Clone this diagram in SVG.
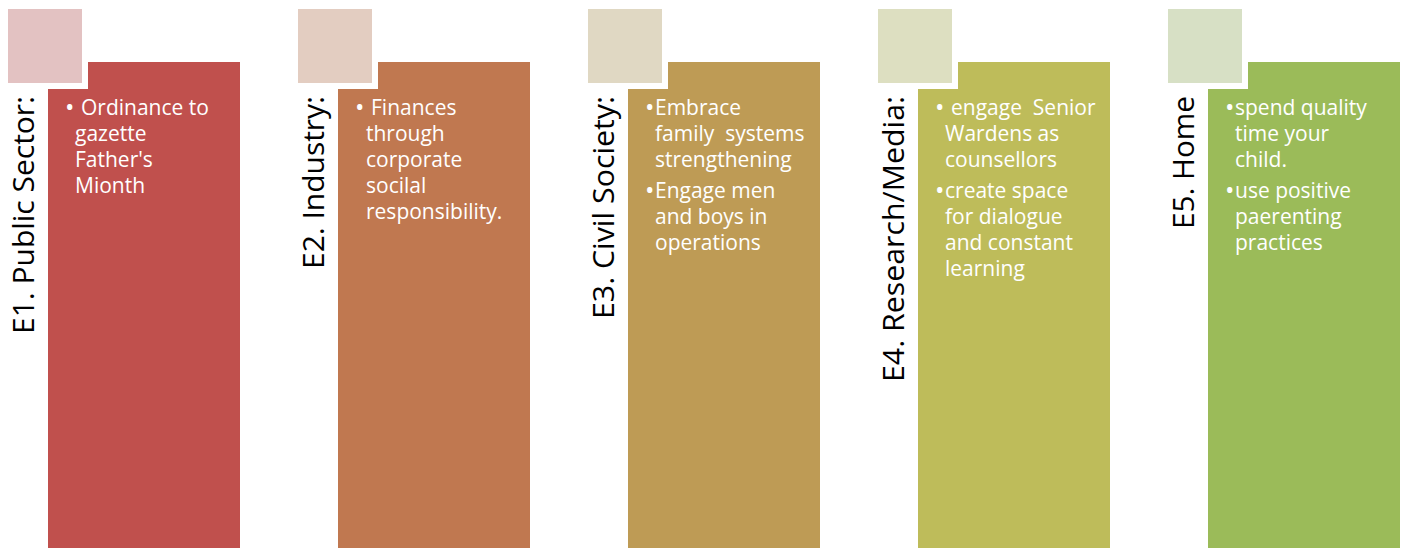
<svg xmlns="http://www.w3.org/2000/svg" width="1403" height="548" viewBox="0 0 1403 548">
  <style>
    .bg { stroke: none; }
    .acc { stroke: #FFFFFF; stroke-width: 6; }
    .lbl { font-family: "Open Sans", "Liberation Sans", sans-serif; font-size: 30px; fill: #000000; text-anchor: end; }
    .txt { font-family: "Open Sans", "Liberation Sans", sans-serif; font-size: 21px; fill: #FFFFFF; }
    .bul { font-family: "Open Sans", "Liberation Sans", sans-serif; font-size: 25px; fill: #FFFFFF; }
  </style>
  <rect x="0" y="0" width="1403" height="548" fill="#FFFFFF"/>

  <g id="node-e1">
    <rect class="bg" x="48" y="62" width="192" height="490" fill="#C0504D"/>
    <rect class="acc" x="5" y="6" width="80" height="80" fill="#E3C2C2"/>
    <text class="lbl" transform="translate(34,96) rotate(-90)" textLength="238" lengthAdjust="spacingAndGlyphs">E1. Public Sector:</text>
    <text class="bul" x="65" y="116">•</text>
    <text class="txt" x="81" y="115">Ordinance to</text>
    <text class="txt" x="75" y="141">gazette</text>
    <text class="txt" x="75" y="167">Father's</text>
    <text class="txt" x="75" y="193">Mionth</text>
  </g>

  <g id="node-e2" transform="translate(290,0)">
    <rect class="bg" x="48" y="62" width="192" height="490" fill="#C07850"/>
    <rect class="acc" x="5" y="6" width="80" height="80" fill="#E3CDC1"/>
    <text class="lbl" transform="translate(34,96) rotate(-90)" textLength="173" lengthAdjust="spacingAndGlyphs">E2. Industry:</text>
    <text class="bul" x="65" y="116">•</text>
    <text class="txt" x="81" y="115">Finances</text>
    <text class="txt" x="76" y="141">through</text>
    <text class="txt" x="76" y="167">corporate</text>
    <text class="txt" x="76" y="193">socilal</text>
    <text class="txt" x="76" y="219">responsibility.</text>
  </g>

  <g id="node-e3" transform="translate(580,0)">
    <rect class="bg" x="48" y="62" width="192" height="490" fill="#BE9B55"/>
    <rect class="acc" x="5" y="6" width="80" height="80" fill="#E0D8C3"/>
    <text class="lbl" transform="translate(34,96) rotate(-90)" textLength="223" lengthAdjust="spacingAndGlyphs">E3. Civil Society:</text>
    <text class="bul" x="65" y="116">•</text>
    <text class="txt" x="75" y="115">Embrace</text>
    <text class="txt" x="75" y="141" xml:space="preserve">family  systems</text>
    <text class="txt" x="75" y="167">strengthening</text>
    <text class="bul" x="65" y="199">•</text>
    <text class="txt" x="75" y="198">Engage men</text>
    <text class="txt" x="75" y="224">and boys in</text>
    <text class="txt" x="75" y="250">operations</text>
  </g>

  <g id="node-e4" transform="translate(870,0)">
    <rect class="bg" x="48" y="62" width="192" height="490" fill="#BEBC5A"/>
    <rect class="acc" x="5" y="6" width="80" height="80" fill="#DDDFC1"/>
    <text class="lbl" transform="translate(34,96) rotate(-90)" textLength="286" lengthAdjust="spacingAndGlyphs">E4. Research/Media:</text>
    <text class="bul" x="65" y="116">•</text>
    <text class="txt" x="81" y="115" xml:space="preserve">engage  Senior</text>
    <text class="txt" x="75" y="141">Wardens as</text>
    <text class="txt" x="75" y="167">counsellors</text>
    <text class="bul" x="65" y="199">•</text>
    <text class="txt" x="75" y="198">create space</text>
    <text class="txt" x="75" y="224">for dialogue</text>
    <text class="txt" x="75" y="250">and constant</text>
    <text class="txt" x="75" y="276">learning</text>
  </g>

  <g id="node-e5" transform="translate(1160,0)">
    <rect class="bg" x="48" y="62" width="192" height="490" fill="#9BBB59"/>
    <rect class="acc" x="5" y="6" width="80" height="80" fill="#D7E0C5"/>
    <text class="lbl" transform="translate(34,96) rotate(-90)" textLength="133" lengthAdjust="spacingAndGlyphs">E5. Home</text>
    <text class="bul" x="65" y="116">•</text>
    <text class="txt" x="75" y="115">spend quality</text>
    <text class="txt" x="75" y="141">time your</text>
    <text class="txt" x="75" y="167">child.</text>
    <text class="bul" x="65" y="199">•</text>
    <text class="txt" x="75" y="198">use positive</text>
    <text class="txt" x="75" y="224">paerenting</text>
    <text class="txt" x="75" y="250">practices</text>
  </g>

  <g id="connectors"></g>
</svg>
